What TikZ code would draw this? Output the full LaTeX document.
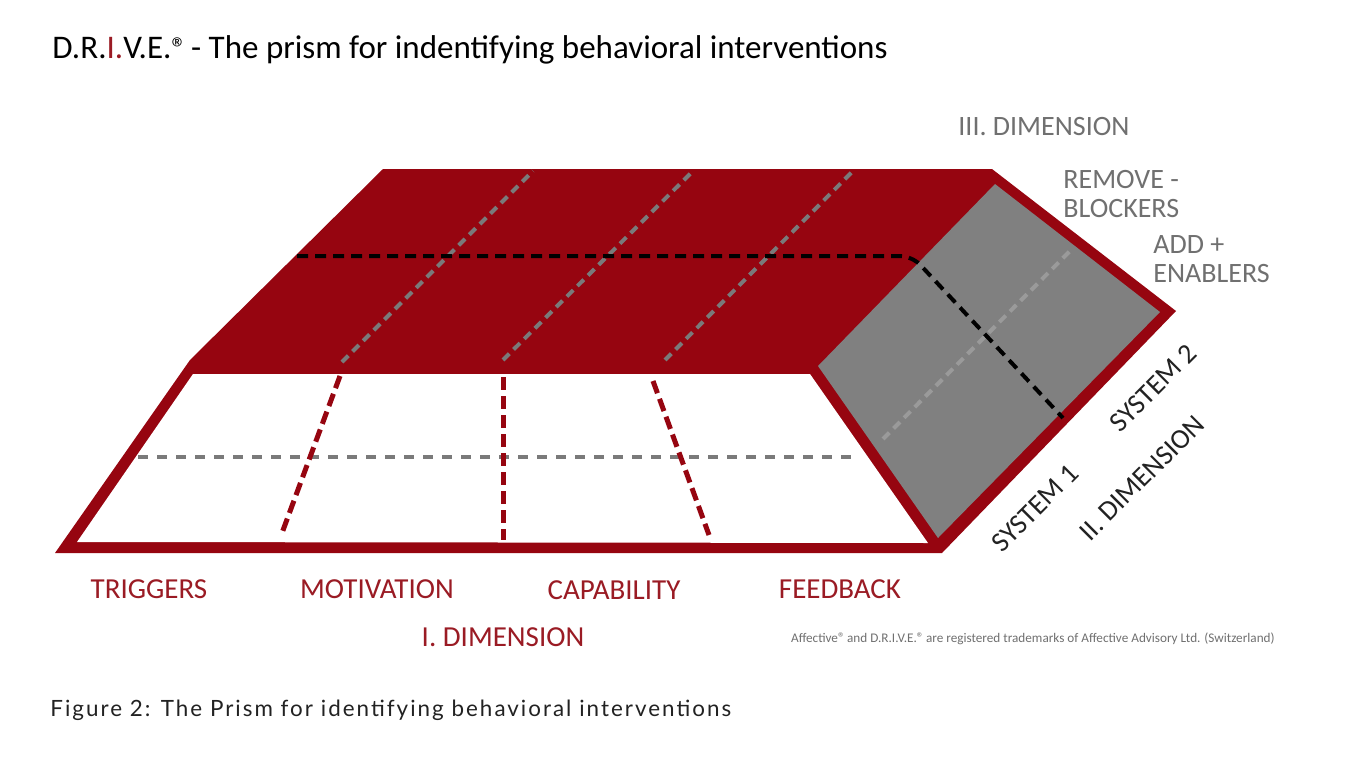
\documentclass[tikz,border=0pt]{standalone}
\usepackage{fontspec}
\setmainfont{Carlito}
\newfontfamily\capfont[LetterSpace=9]{Lato}
\definecolor{prismred}{HTML}{960510}
\definecolor{labelred}{HTML}{9A1B24}
\definecolor{facegray}{HTML}{808080}
\definecolor{dashgray}{HTML}{7A7A7A}
\definecolor{lightdash}{HTML}{9A9A9A}
\definecolor{txtgray}{HTML}{707070}
\definecolor{txtdark}{HTML}{222222}
\tikzset{
  redlabel/.style={text=labelred, font=\fontsize{14.5}{17}\selectfont, inner sep=0pt},
  graylabel/.style={text=txtgray, font=\fontsize{14}{13.5}\selectfont, inner sep=0pt, align=left},
  darklabel/.style={text=txtdark, font=\fontsize{14}{16}\selectfont, inner sep=0pt, rotate=45},
  reddash/.style={draw=prismred, line width=2.5pt, dash pattern=on 6.5pt off 3pt},
  graydash/.style={draw=dashgray, line width=2pt, dash pattern=on 5pt off 4.5pt},
  topdash/.style={draw=dashgray, line width=2pt, dash pattern=on 4.5pt off 3pt},
  blackdash/.style={draw=black, line width=2pt, dash pattern=on 5.5pt off 3.5pt, rounded corners=6pt},
  sidedash/.style={draw=lightdash, line width=2pt, dash pattern=on 4.5pt off 3pt},
}
\newcommand{\regmark}[1]{{\fontsize{#1}{#1}\selectfont ®}}
\begin{document}
\begin{tikzpicture}[x=0.5pt,y=-0.5pt]
\useasboundingbox (0,0) rectangle (1350,760);
\fill[white] (0,0) rectangle (1350,760);

% prism body
\fill[prismred] (55,553) -- (190,360) -- (383,169) -- (992,169) -- (1176,311) -- (942,553) -- cycle;
\fill[white] (77,542) -- (193,374) -- (810,374) -- (928,543) -- cycle;
\fill[facegray] (995,184) -- (1160,312) -- (938,538) -- (818,366) -- cycle;

% coordinates for dashed lines
\coordinate (fh1) at (138,457);
\coordinate (fh2) at (858,457);
\coordinate (r1a) at (340,376);
\coordinate (r1b) at (282,533);
\coordinate (r2a) at (503,377);
\coordinate (r2b) at (503,540);
\coordinate (r3a) at (653,381);
\coordinate (r3b) at (709,535);
\coordinate (t1a) at (342,362);
\coordinate (t1b) at (533,171);
\coordinate (t2a) at (503,360);
\coordinate (t2b) at (693,171);
\coordinate (t3a) at (665,360);
\coordinate (t3b) at (853,171);
\coordinate (b1) at (297,256);
\coordinate (b2) at (912,256);
\coordinate (b3) at (1063,418);
\coordinate (s1) at (883,439);
\coordinate (s2) at (1073,248);

% dashed lines
\draw[topdash] (t1a) -- (t1b);
\draw[topdash] (t2a) -- (t2b);
\draw[topdash] (t3a) -- (t3b);
\draw[sidedash] (s1) -- (s2);
\draw[blackdash] (b1) -- (b2) -- (b3);
\draw[graydash] (fh1) -- (fh2);
\draw[reddash] (r1a) -- (r1b);
\draw[reddash] (r2a) -- (r2b);
\draw[reddash] (r3a) -- (r3b);

% title
\node[anchor=base west, inner sep=0pt, text=black, font=\fontsize{16.5}{19}\selectfont] (title) at (52,58)
  {D.R.\textcolor{labelred}{I.}V.E.\regmark{15}\kern-1.5pt{} - The prism for indentifying behavioral interventions};

% bottom labels
\node[redlabel, anchor=base] (trig) at (149,598) {TRIGGERS};
\node[redlabel, anchor=base] (moti) at (377,598) {MOTIVATION};
\node[redlabel, anchor=base] (capa) at (614,599) {CAPABILITY};
\node[redlabel, anchor=base] (feed) at (840,598) {FEEDBACK};
\node[redlabel, anchor=base] (dim1) at (503,646) {I. DIMENSION};

% right labels
\node[graylabel, anchor=base west] (dim3) at (958,135) {III. DIMENSION};
\node[graylabel, anchor=north west] (remove) at (1063,170) {REMOVE -\\[1pt]BLOCKERS};
\node[graylabel, anchor=north west] (add) at (1153,235) {ADD +\\[1pt]ENABLERS};

% rotated labels
\node[darklabel] (sys2) at (1153,388) {SYSTEM 2};
\node[darklabel] (sys1) at (1035,508) {SYSTEM 1};
\node[darklabel] (dim2) at (1142,478) {II. DIMENSION};

% trademark
\node[anchor=base east, inner sep=0pt, text=txtgray, font=\fontsize{6.6}{8}\selectfont] (tm) at (1275,642)
  {Affective\regmark{7}\kern-0.5pt{} and D.R.I.V.E.\regmark{7}\kern-0.5pt{} are registered trademarks of Affective Advisory Ltd. (Switzerland)};

% caption
\node[anchor=base west, inner sep=0pt, text=txtdark, font=\capfont\fontsize{11.2}{14}\selectfont] (cap) at (50,716)
  {Figure 2: The Prism for identifying behavioral interventions};
\end{tikzpicture}
\end{document}
